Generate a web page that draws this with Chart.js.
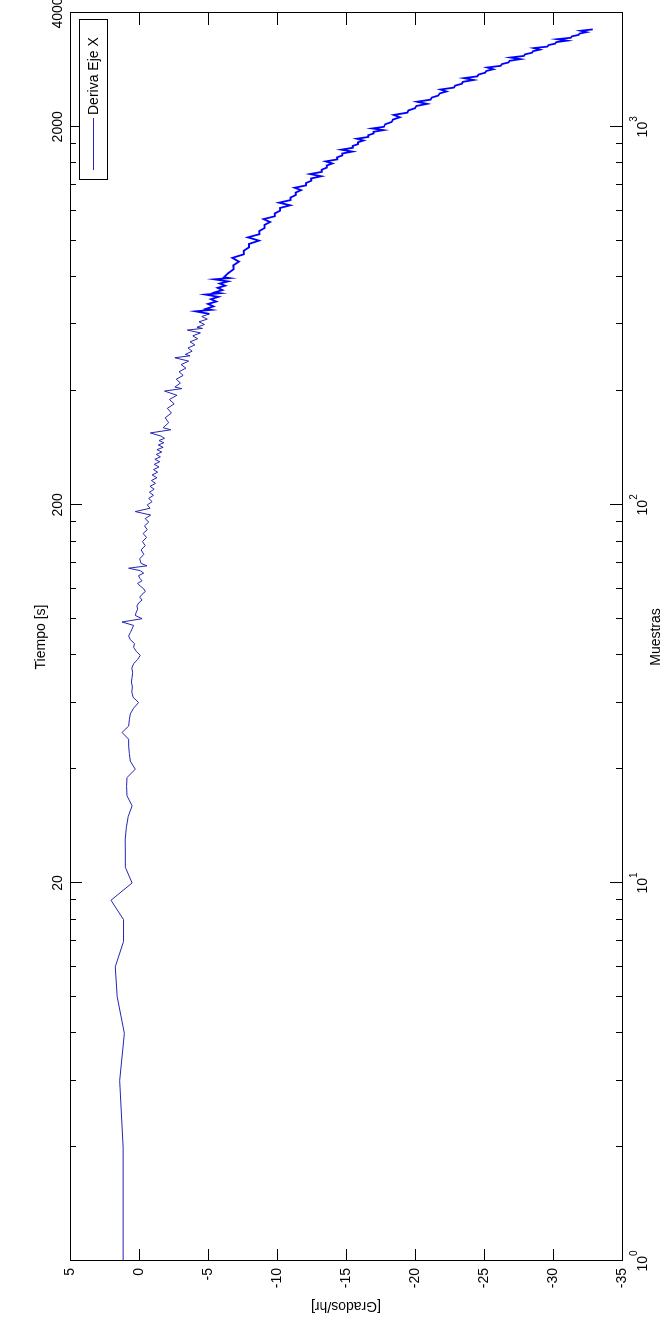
<!DOCTYPE html>
<html>
<head>
<meta charset="utf-8">
<script src="https://cdn.jsdelivr.net/npm/chart.js@4.4.1/dist/chart.umd.min.js"></script>
<style>
  html, body { margin: 0; padding: 0; background: #fff; }
  body { width: 669px; height: 1317px; overflow: hidden; position: relative; }
  /* the MATLAB figure was saved turned a quarter turn to the left */
  #wrap {
    position: absolute; left: 0; top: 0;
    width: 1317px; height: 669px;
    transform-origin: 0 0;
    transform: translate(0, 1317px) rotate(-90deg);
  }
</style>
</head>
<body>
<div id="wrap"><canvas id="deriva" width="1317" height="669"></canvas></div>
<script>
// sample index (log axis)
const muestras = [
  1,2,3,4,5,6,7,8,9,10,11,12,13,14,15,16,17,18,19,20,
  21,22,23,24,25,26,27,28,29,30,31,32,33,34,35,36,37,38,39,40,
  41,42,43,44,45,46,47,48,49,50,51,52,53,54,55,56,57,58,59,60,
  61,62,63,64,65,66,67,68,69,70,
  72,74,76,78,80,82,84,86,88,90,92,94,96,98,100,102,104,106,108,110,
  112,114,116,118,120,122,124,126,128,130,132,134,136,138,140,142,144,146,148,150,
  152,155,158,160,165,170,175,180,185,190,195,200,203,205,210,215,220,225,230,235,
  240,245,248,250,255,260,265,270,275,280,285,290,293,295,300,305,310,315,320,325,
  328,330,335,340,345,350,355,360,363,365,370,375,380,385,390,395,398,400,
  410,420,430,440,450,460,470,480,490,500,510,520,530,540,550,560,570,580,590,600,
  610,620,630,640,650,660,670,680,690,700,710,720,730,740,750,760,770,780,790,800,
  810,820,830,840,850,860,870,880,890,900,910,920,930,940,950,960,970,980,990,1000,
  1015,1030,1045,1060,1075,1090,1105,1120,1135,1150,1165,1180,1195,1210,1225,1240,1255,1270,
  1285,1300,1315,1330,1345,1360,1375,1390,1405,1420,1435,1450,1465,1480,1495,1510,1525,1540,
  1555,1570,1585,1600,1615,1630,1645,1660,1675,1690,1705,1720,1735,1750,1765,1780,1795,1810
]
// drift, degrees per hour
const deriva = [
  1.15,1.15,1.40,1.06,1.58,1.72,1.12,1.12,2.03,0.50,0.99,0.99,1.00,0.92,0.78,0.50,0.87,0.90,0.87,0.27,
  0.63,0.70,0.75,0.75,1.23,0.75,0.70,0.63,0.39,0.03,0.43,0.52,0.48,0.55,0.50,0.46,0.52,0.39,0.10,-0.09,
  0.20,0.39,0.33,0.63,0.75,0.62,0.50,0.39,1.23,-0.22,0.27,0.20,0.10,0.15,0.03,-0.22,-0.05,-0.22,-0.46,-0.34,
  -0.09,0.10,-0.22,-0.05,0.03,-0.34,-0.09,0.75,-0.58,-0.15,
  -0.05,-0.35,-0.15,-0.45,-0.25,-0.55,-0.30,-0.60,-0.40,-0.70,-0.45,-0.85,0.27,-0.80,-0.60,-0.95,-0.70,-1.05,-0.75,-1.10,
  -0.80,-1.20,-0.90,-1.30,-0.95,-1.35,-1.05,-1.45,-1.10,-1.50,-1.15,-1.55,-1.25,-1.65,-1.30,-1.75,-1.40,-1.80,-1.45,-1.85,
  -1.60,-0.82,-2.30,-1.75,-2.15,-1.90,-2.35,-2.05,-2.55,-2.20,-2.75,-1.85,-3.10,-2.60,-3.00,-2.70,-3.20,-2.90,-3.40,-3.05,
  -3.60,-2.60,-3.70,-3.35,-3.85,-3.55,-4.05,-3.70,-4.25,-3.90,-4.45,-3.50,-4.60,-4.20,-4.75,-4.35,-4.95,-4.55,-5.10,-4.10,
  -5.25,-4.85,-5.40,-5.00,-5.60,-5.20,-5.75,-4.80,-5.90,-5.50,-6.05,-5.70,-6.25,-5.85,-6.45,-5.45,-6.55,-6.15,
  -6.46,-6.85,-6.83,-7.24,-6.76,-7.60,-7.59,-7.97,-7.96,-8.70,-7.89,-8.73,-8.71,-9.10,-9.09,-9.50,-9.02,-9.85,-9.84,-10.23,
  -10.22,-10.96,-10.14,-10.98,-10.97,-11.36,-11.35,-11.75,-11.27,-12.11,-12.10,-12.49,-12.47,-13.21,-12.40,-13.24,-13.23,-13.61,-13.60,-14.01,
  -13.53,-14.37,-14.35,-14.74,-14.73,-15.47,-14.66,-15.49,-15.48,-15.87,-15.86,-16.27,-15.78,-16.62,-16.61,-17.00,-16.99,-17.72,-16.91,-17.75,
  -17.83,-18.31,-18.40,-18.90,-18.46,-19.44,-19.52,-20.01,-20.09,-20.87,-20.15,-21.13,-21.22,-21.70,-21.78,-22.28,-21.84,-22.83,
  -22.91,-23.39,-23.47,-24.25,-23.54,-24.52,-24.60,-25.08,-25.16,-25.67,-25.23,-26.21,-26.29,-26.77,-26.86,-27.64,-26.92,-27.90,
  -27.98,-28.47,-28.55,-29.05,-28.61,-29.59,-29.68,-30.16,-30.24,-31.02,-30.30,-31.29,-31.37,-31.85,-31.93,-32.43,-32.00,-32.88
]
const tiempoTicks = [20, 200, 2000, 4000]

const font = { family: '"Liberation Sans", Arial, sans-serif', size: 14 }
const blue = '#0000ff'
const thinBlue = '#2424b4'

// MATLAB style box: frame, inward ticks, 10^n labels and the legend
const matlabBox = {
  id: 'matlabBox',
  afterDraw(chart) {
    const { ctx, chartArea: a, scales } = chart
    const xs = scales.x
    const ys = scales.y
    ctx.save()
    ctx.strokeStyle = '#000'
    ctx.lineWidth = 1
    ctx.beginPath()
    ys.ticks.forEach(t => {
      const py = Math.round(ys.getPixelForValue(t.value)) + 0.5
      ctx.moveTo(a.left, py); ctx.lineTo(a.left + 12, py)
      ctx.moveTo(a.right, py); ctx.lineTo(a.right - 12, py)
    })
    const majors = []
    xs.ticks.forEach(t => {
      const e = Math.floor(Math.log10(t.value) + 1e-9)
      const m = t.value / Math.pow(10, e)
      if (Math.abs(m - Math.round(m)) > 1e-6) return
      const major = Math.abs(m - 1) < 1e-6
      if (major) majors.push({ value: t.value, e })
      const len = major ? 12 : 6
      const px = Math.round(xs.getPixelForValue(t.value)) + 0.5
      ctx.moveTo(px, a.bottom); ctx.lineTo(px, a.bottom - len)
      ctx.moveTo(px, a.top); ctx.lineTo(px, a.top + len)
    })
    ctx.stroke()
    ctx.strokeRect(Math.round(a.left) + 0.5, Math.round(a.top) + 0.5,
      Math.round(a.right - a.left), Math.round(a.bottom - a.top))

    // 10^n tick labels
    ctx.fillStyle = '#000'
    ctx.textBaseline = 'alphabetic'
    ctx.textAlign = 'left'
    majors.forEach(t => {
      const px = xs.getPixelForValue(t.value)
      ctx.font = '14px "Liberation Sans", Arial, sans-serif'
      const w1 = ctx.measureText('10').width
      ctx.font = '10px "Liberation Sans", Arial, sans-serif'
      const w2 = ctx.measureText(String(t.e)).width
      const x0 = px - (w1 + w2) / 2
      ctx.font = '14px "Liberation Sans", Arial, sans-serif'
      ctx.fillText('10', x0, a.bottom + 25)
      ctx.font = '10px "Liberation Sans", Arial, sans-serif'
      ctx.fillText(String(t.e), x0 + w1, a.bottom + 15)
    })

    // legend, top right inside the axes
    const ds = chart.data.datasets[0]
    const lw = 160, lh = 28
    const lx = Math.round(a.right - 7 - lw), ly = Math.round(a.top + 9)
    ctx.fillStyle = '#fff'
    ctx.fillRect(lx, ly, lw, lh)
    ctx.strokeRect(lx + 0.5, ly + 0.5, lw, lh)
    ctx.strokeStyle = thinBlue
    ctx.beginPath()
    ctx.moveTo(lx + 10, ly + 14.5); ctx.lineTo(lx + 62, ly + 14.5)
    ctx.stroke()
    ctx.fillStyle = '#000'
    ctx.font = '14px "Liberation Sans", Arial, sans-serif'
    ctx.textBaseline = 'middle'
    ctx.fillText(ds.label, lx + 65, ly + 15)
    ctx.restore()
  }
}

const ctx = document.getElementById('deriva')

new Chart(ctx, {
  type: 'line',
  data: {
    datasets: [{
      label: 'Deriva Eje X',
      data: muestras.map((n, i) => ({ x: n, y: deriva[i] })),
      borderColor: blue,
      borderWidth: 1,
      pointRadius: 0,
      tension: 0,
      fill: false,
      // the dense, noisy end of the record renders as a solid band
      segment: {
        borderWidth: c => c.p0.parsed.x >= 320 ? 1.8 : 1,
        borderColor: c => c.p0.parsed.x >= 320 ? blue : thinBlue,
      },
    }]
  },
  options: {
    responsive: false,
    animation: false,
    devicePixelRatio: 1,
    layout: { padding: { top: 0, right: 13, bottom: 0, left: 0 } },
    plugins: { legend: { display: false }, tooltip: { enabled: false } },
    scales: {
      x: {
        type: 'logarithmic',
        position: 'bottom',
        min: 1,
        max: 2000,
        ticks: { display: false, autoSkip: false },
        grid: { display: false, drawTicks: false },
        border: { display: false },
        title: { display: true, text: 'Muestras', font, color: '#000', padding: { top: 0, bottom: 4 } },
        afterFit(s) { s.height = 47; s.paddingLeft = 0; s.paddingRight = 0 }
      },
      x2: {
        type: 'logarithmic',
        position: 'top',
        min: 2,
        max: 4000,
        afterBuildTicks(s) { s.ticks = tiempoTicks.map(v => ({ value: v })) },
        ticks: { autoSkip: false, maxRotation: 0, padding: 3, font, color: '#000', callback: v => String(v) },
        grid: { display: false, drawTicks: false },
        border: { display: false },
        title: { display: true, text: 'Tiempo [s]', font, color: '#000', padding: { top: 33, bottom: 0 } },
        afterFit(s) { s.height = 70; s.paddingLeft = 0; s.paddingRight = 0 }
      },
      y: {
        type: 'linear',
        min: -35,
        max: 5,
        ticks: { stepSize: 5, padding: 7, font, color: '#000' },
        grid: { display: false, drawTicks: false },
        border: { display: false },
        title: { display: true, text: '[Grados/hr]', font, color: '#000', padding: { top: 3, bottom: 0 } },
        afterFit(s) { s.width = 56; s.paddingTop = 0; s.paddingBottom = 0 }
      }
    }
  },
  plugins: [matlabBox]
})
</script>
</body>
</html>
